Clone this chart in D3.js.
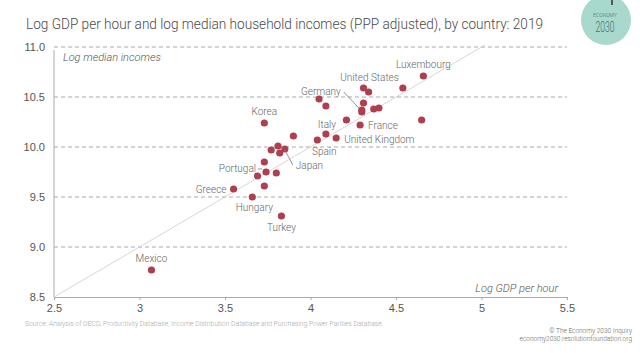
<!DOCTYPE html>
<html>
<head>
<meta charset="utf-8">
<script src="https://cdn.jsdelivr.net/npm/d3@7"></script>
<style>
  body { margin: 0; background: #fff; }
  svg { display: block; font-family: Roboto, Lato, sans-serif; font-weight: 300; }
  .tick text { fill: #555; font-size: 11px; }
</style>
</head>
<body>
<div id="chart"></div>
<script>
var width = 640, height = 353;
var svg = d3.select("#chart").append("svg")
  .attr("width", width)
  .attr("height", height);

var margin = { top: 47, right: 73, bottom: 56, left: 54 };

// data
var countries = ["Mexico","Turkey","Hungary","Greece","","","Portugal","","",
  "","","Japan","","","Spain","Italy","United Kingdom","Korea","","France",
  "","","","Germany","","","","United States","","","Luxembourg",""];
var gdpPerHour = [3.07,3.83,3.66,3.55,3.73,3.69,3.74,3.80,3.73,
  3.77,3.82,3.85,3.81,3.90,4.04,4.09,4.15,3.73,4.21,4.29,
  4.05,4.09,4.31,4.30,4.30,4.37,4.40,4.31,4.34,4.54,4.66,4.65];
var medianIncome = [8.77,9.31,9.50,9.58,9.61,9.71,9.75,9.74,9.85,
  9.97,9.94,9.98,10.01,10.11,10.07,10.13,10.09,10.24,10.27,10.22,
  10.48,10.41,10.44,10.37,10.35,10.38,10.39,10.59,10.55,10.59,10.71,10.27];
var xTicks = [2.5, 3, 3.5, 4, 4.5, 5, 5.5];
var yTicks = [8.5, 9.0, 9.5, 10.0, 10.5, 11.0];

var data = gdpPerHour.map(function(g, i) {
  return { country: countries[i], gdp: g, income: medianIncome[i] };
});

// label placement: [anchor, dx, dy, leader line]
var labelPos = {
  "Luxembourg": ["middle", 0, -8],
  "United States": ["middle", 6, -7],
  "Germany": ["end", -21, -15, [[-2, -1], [-18, -18]]],
  "Korea": ["middle", 0, -8],
  "Italy": ["middle", 1, -6],
  "France": ["start", 8, 4],
  "United Kingdom": ["start", 8, 5],
  "Spain": ["middle", 7, 15],
  "Japan": ["start", 11, 20, [[0, 1], [8, 16]]],
  "Portugal": ["end", -10, 0, [[-4, -3], [-8, -3]]],
  "Greece": ["end", -7, 4],
  "Hungary": ["middle", 2, 14],
  "Turkey": ["middle", 0, 15],
  "Mexico": ["middle", 0, -8]
};

var xScale = d3.scaleLinear()
  .domain([2.5, 5.5])
  .range([margin.left, width - margin.right]);

var yScale = d3.scaleLinear()
  .domain([8.5, 11])
  .range([height - margin.bottom, margin.top]);

// title
svg.append("text")
  .attr("x", 26)
  .attr("y", 29)
  .attr("fill", "#4a4a4a")
  .attr("font-size", 14.5)
  .attr("textLength", 517)
  .attr("lengthAdjust", "spacingAndGlyphs")
  .text("Log GDP per hour and log median household incomes (PPP adjusted), by country: 2019");

// logo
svg.append("circle")
  .attr("cx", 606).attr("cy", 20).attr("r", 25)
  .attr("fill", "#a9d8cd");
svg.append("line")
  .attr("x1", 612).attr("x2", 612).attr("y1", 0).attr("y2", 5)
  .attr("stroke", "#333").attr("stroke-width", 1.5);
svg.append("text")
  .attr("x", 605).attr("y", 17)
  .attr("text-anchor", "middle")
  .attr("font-size", 5)
  .attr("fill", "#3e6b66")
  .text("ECONOMY");
svg.append("text")
  .attr("x", 605).attr("y", 32)
  .attr("text-anchor", "middle")
  .attr("font-size", 15)
  .attr("textLength", 19)
  .attr("lengthAdjust", "spacingAndGlyphs")
  .attr("fill", "#3e6b66")
  .text("2030");

// gridlines
svg.append("g")
  .selectAll("line")
  .data(yTicks.slice(1))
  .enter()
  .append("line")
    .attr("x1", xScale(2.5))
    .attr("x2", xScale(5.5))
    .attr("y1", function(d) { return yScale(d); })
    .attr("y2", function(d) { return yScale(d); })
    .attr("stroke", "#aaa")
    .attr("stroke-dasharray", "4,3");

// y axis
var yAxis = svg.append("g")
  .attr("transform", `translate(${margin.left},0)`)
  .call(d3.axisLeft(yScale).tickValues(yTicks).tickFormat(d3.format(".1f")).tickSize(0).tickPadding(9));
yAxis.select(".domain").remove();
svg.append("line")
  .attr("x1", margin.left).attr("x2", margin.left)
  .attr("y1", yScale(10.97)).attr("y2", yScale(8.5))
  .attr("stroke", "#aaa");

// x axis
var xAxis = svg.append("g")
  .attr("transform", `translate(0,${height - margin.bottom})`)
  .call(d3.axisBottom(xScale).tickValues(xTicks).tickFormat(d3.format("")).tickSize(3).tickPadding(4));
xAxis.select(".domain").attr("stroke", "#aaa");
xAxis.selectAll(".tick line").attr("stroke", "#aaa");
svg.selectAll(".tick text").attr("font-family", null);

// 45 degree line
svg.append("line")
  .attr("x1", xScale(2.5)).attr("y1", yScale(8.5))
  .attr("x2", xScale(5.02)).attr("y2", yScale(11.02))
  .attr("stroke", "#ccc")
  .attr("stroke-width", 0.8);

// axis titles
svg.append("text")
  .attr("x", 63).attr("y", 61)
  .attr("font-style", "italic")
  .attr("font-size", 11)
  .attr("fill", "#555")
  .text("Log median incomes");
svg.append("text")
  .attr("x", 558).attr("y", 292)
  .attr("text-anchor", "end")
  .attr("font-style", "italic")
  .attr("font-size", 11)
  .attr("fill", "#555")
  .text("Log GDP per hour");

// points
svg.selectAll("circle.dot")
  .data(data)
  .enter()
  .append("circle")
    .attr("class", "dot")
    .attr("cx", function(d) { return xScale(d.gdp); })
    .attr("cy", function(d) { return yScale(d.income); })
    .attr("r", 3.6)
    .attr("fill", "#ae3f4f");

// labels
var labelled = data.filter(function(d) { return d.country !== ""; });
svg.selectAll("text.lbl")
  .data(labelled)
  .enter()
  .append("text")
    .attr("class", "lbl")
    .attr("x", function(d) { return xScale(d.gdp) + labelPos[d.country][1]; })
    .attr("y", function(d) { return yScale(d.income) + labelPos[d.country][2]; })
    .attr("text-anchor", function(d) { return labelPos[d.country][0]; })
    .attr("font-size", 10)
    .attr("fill", "#666")
    .text(function(d) { return d.country; });

svg.selectAll("line.leader")
  .data(labelled.filter(function(d) { return labelPos[d.country][3]; }))
  .enter()
  .append("line")
    .attr("class", "leader")
    .attr("x1", function(d) { return xScale(d.gdp) + labelPos[d.country][3][0][0]; })
    .attr("y1", function(d) { return yScale(d.income) + labelPos[d.country][3][0][1]; })
    .attr("x2", function(d) { return xScale(d.gdp) + labelPos[d.country][3][1][0]; })
    .attr("y2", function(d) { return yScale(d.income) + labelPos[d.country][3][1][1]; })
    .attr("stroke", "#777")
    .attr("stroke-width", 0.8);

// footer
svg.append("text")
  .attr("x", 25).attr("y", 326)
  .attr("font-size", 6.8)
  .attr("fill", "#aaa")
  .text("Source: Analysis of OECD, Productivity Database, Income Distribution Database and Purchasing Power Parities Database.");
svg.append("text")
  .attr("x", 632).attr("y", 333)
  .attr("text-anchor", "end")
  .attr("font-size", 6.5)
  .attr("fill", "#666")
  .text("© The Economy 2030 Inquiry");
svg.append("text")
  .attr("x", 632).attr("y", 341)
  .attr("text-anchor", "end")
  .attr("font-size", 6.5)
  .attr("fill", "#666")
  .text("economy2030.resolutionfoundation.org");
</script>
</body>
</html>
